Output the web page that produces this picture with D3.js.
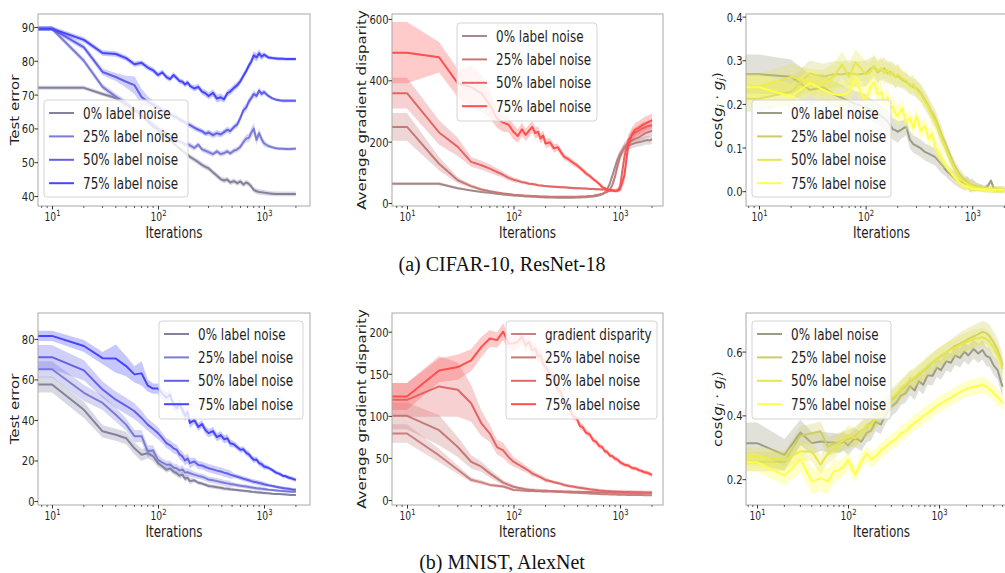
<!DOCTYPE html>
<html>
<head>
<meta charset="utf-8">
<script src="https://cdn.jsdelivr.net/npm/d3@7"></script>
<style>
  body { margin: 0; background: #fff; }
  svg { display: block; }
</style>
</head>
<body>
<svg id="fig" width="1005" height="573"></svg>
<script>
// ---------- iteration grids ----------
const iters = [
  5, 10, 20, 30, 40, 50, 60, 70, 80, 90, 100,
  110, 120, 130, 140, 150, 160, 170, 180, 190, 200,
  220, 240, 260, 280, 300, 330, 360, 390, 420, 450, 480, 520, 560, 600, 640, 680, 720, 760, 800, 850, 900, 950, 1000,
  1100, 1200, 1300, 1400, 1500, 1600, 1700, 1800, 1900, 2000
];
const itersLong = [
  5, 10, 20, 30, 40, 50, 60, 70, 80, 90, 100,
  120, 140, 160, 180, 200, 230, 260, 300, 340, 380,
  430, 480, 540, 600, 670, 750, 850, 950, 1050, 1200, 1350, 1500,
  1700, 1900, 2100, 2400, 2700, 3000, 3300, 3600, 4000, 4400, 4800, 5000
];

const noiseLabels = ["0% label noise", "25% label noise", "50% label noise", "75% label noise"];
const mnistDispLabels = ["gradient disparity", "25% label noise", "50% label noise", "75% label noise"];

// ---------- CIFAR-10 / ResNet-18: test error ----------
const cifarErr00 = [72.0, 72.0, 72.0, 70.2, 69.0, 67.0, 65.5, 64.0, 62.0, 60.6, 59.4,
  58.3, 57.4, 56.5, 55.6, 54.8, 54.0, 53.4, 52.8, 52.2, 51.6,
  50.8, 50.0, 49.2, 48.6, 48.2, 47.0, 46.0, 45.0, 44.6, 44.9, 44.0, 44.4, 43.8, 44.3, 43.4, 44.0, 43.6, 42.8, 41.8, 41.4, 41.2, 41.1, 41.0,
  40.8, 40.7, 40.6, 40.6, 40.6, 40.6, 40.6, 40.6, 40.6, 40.6];
const cifarErrSd00 = [0.6, 0.6, 0.6, 0.6, 0.6, 0.6, 0.6, 0.6, 0.6, 0.6, 0.6,
  0.7, 0.7, 0.7, 0.7, 0.7, 0.7, 0.7, 0.7, 0.7, 0.7,
  0.8, 0.8, 0.8, 0.8, 0.8, 0.8, 0.8, 0.8, 0.8, 0.8, 0.8, 0.8, 0.8, 0.8, 0.8, 0.8, 0.8, 0.8, 0.8, 0.8, 0.8, 0.8, 0.8,
  0.7, 0.7, 0.7, 0.7, 0.7, 0.7, 0.7, 0.7, 0.7, 0.7];
const cifarErr25 = [89.5, 89.5, 80.0, 72.3, 69.4, 67.5, 65.5, 63.8, 62.5, 61.0, 60.0,
  59.2, 58.5, 57.8, 57.0, 56.6, 56.0, 55.8, 55.2, 55.4, 55.0,
  54.2, 55.2, 53.8, 53.4, 53.0, 52.4, 53.2, 52.4, 52.7, 53.2, 52.6, 53.4, 53.8, 54.6, 56.0, 57.0, 57.2, 58.8, 60.0, 56.6, 58.6, 56.8, 55.6,
  54.8, 54.4, 54.1, 54.0, 54.0, 53.9, 53.9, 53.9, 54.0, 54.0];
const cifarErrSd25 = [0.7, 0.7, 0.8, 0.9, 0.9, 0.9, 0.9, 0.9, 0.9, 0.9, 0.9,
  0.8, 0.8, 0.8, 0.8, 0.8, 0.8, 0.8, 0.8, 0.8, 0.8,
  0.8, 0.8, 0.8, 0.8, 0.8, 0.8, 0.8, 0.8, 0.8, 0.8, 0.8, 0.8, 0.8, 0.9, 1.0, 1.2, 1.3, 1.5, 1.6, 1.5, 1.4, 1.2, 1.0,
  0.6, 0.5, 0.5, 0.5, 0.5, 0.5, 0.5, 0.5, 0.5, 0.5];
const cifarErr50 = [89.5, 89.5, 84.0, 76.7, 75.2, 73.8, 72.8, 69.3, 67.9, 67.0, 66.2,
  65.4, 64.8, 64.2, 63.6, 63.3, 62.6, 62.2, 61.8, 61.2, 61.0,
  60.2, 59.6, 59.2, 58.4, 58.8, 58.0, 58.6, 58.2, 58.9, 59.6, 59.2, 60.4, 61.2, 63.2, 65.4, 66.2, 68.0, 69.0, 70.2, 69.6, 71.2, 70.2, 70.8,
  69.6, 68.9, 68.5, 68.3, 68.2, 68.2, 68.2, 68.2, 68.2, 68.2];
const cifarErrSd50 = [0.7, 0.7, 0.9, 1.0, 1.2, 1.8, 2.6, 2.4, 1.6, 1.2, 1.0,
  0.9, 0.9, 0.8, 0.8, 0.8, 0.8, 0.8, 0.8, 0.8, 0.8,
  0.8, 0.8, 0.8, 0.8, 0.9, 0.9, 0.9, 0.9, 0.9, 0.9, 0.9, 0.9, 1.0, 1.0, 1.1, 1.1, 1.1, 1.1, 1.1, 1.0, 1.0, 0.9, 0.8,
  0.6, 0.5, 0.5, 0.5, 0.5, 0.5, 0.5, 0.5, 0.5, 0.5];
const cifarErr75 = [89.5, 89.5, 86.2, 82.3, 82.0, 80.8, 79.0, 79.4, 78.0, 77.2, 75.8,
  76.6, 75.2, 74.6, 75.8, 74.9, 74.0, 73.8, 73.0, 73.6, 72.6,
  71.8, 72.3, 70.9, 70.4, 69.6, 70.5, 68.8, 69.2, 68.6, 70.4, 70.9, 72.0, 72.8, 74.0, 75.6, 77.0, 78.6, 79.8, 81.6, 81.0, 82.2, 81.2, 81.8,
  81.0, 80.8, 80.7, 80.6, 80.6, 80.5, 80.5, 80.5, 80.5, 80.5];
const cifarErrSd75 = [0.7, 0.7, 0.8, 0.8, 0.8, 0.8, 0.8, 0.8, 0.8, 0.8, 0.8,
  0.8, 0.8, 0.8, 0.8, 0.8, 0.8, 0.8, 0.8, 0.8, 0.8,
  0.9, 0.9, 0.9, 1.0, 1.0, 1.1, 1.2, 1.1, 1.0, 1.0, 1.0, 1.0, 1.0, 1.0, 1.0, 1.0, 1.0, 1.1, 1.2, 1.2, 1.2, 1.0, 0.8,
  0.6, 0.5, 0.5, 0.5, 0.5, 0.5, 0.5, 0.5, 0.5, 0.5];

// ---------- CIFAR-10 / ResNet-18: average gradient disparity ----------
const cifarDisp00 = [63, 63, 63, 48, 41, 36, 33, 30.5, 28, 26, 24.5,
  23.5, 22.5, 21.5, 21, 20.5, 20, 19.5, 19, 18.5, 18,
  17.5, 17.5, 17, 17, 17, 17, 17, 17.5, 18, 18.5, 19, 20, 21, 23, 25, 28, 34, 45, 62, 90, 118, 142, 160,
  180, 188, 192, 196, 198, 200, 203, 205, 204, 208];
const cifarDispSd00 = [5, 5, 5, 4, 3, 3, 3, 3, 3, 3, 3,
  2, 2, 2, 2, 2, 2, 2, 2, 2, 2,
  2, 2, 2, 2, 2, 2, 2, 2, 2, 2, 2, 2, 2, 2, 2, 2, 3, 3, 5, 8, 12, 14, 14,
  14, 14, 14, 14, 14, 14, 14, 14, 14, 14];
const cifarDisp25 = [248, 248, 128, 74, 55, 44, 38, 34, 31, 29, 27,
  26, 25, 24, 23.5, 23, 22.5, 22, 21.5, 21, 21,
  20.5, 20, 20, 20, 20, 20, 20, 20.5, 21, 21.5, 22, 23, 24, 26, 28, 30, 33, 36, 42, 60, 88, 122, 150,
  183, 196, 204, 210, 214, 220, 226, 230, 232, 236];
const cifarDispSd25 = [45, 45, 22, 10, 6, 5, 4, 4, 4, 3, 3,
  3, 3, 3, 3, 3, 3, 3, 3, 3, 3,
  2, 2, 2, 2, 2, 2, 2, 2, 2, 2, 2, 2, 2, 2, 2, 2, 2, 3, 5, 8, 12, 15, 15,
  16, 16, 16, 16, 16, 16, 16, 16, 16, 16];
const cifarDisp50 = [358, 358, 230, 183, 134, 123, 112, 101, 92, 82, 76,
  72, 68, 66, 63, 62, 60, 58, 57, 56, 55,
  54, 53, 52, 51, 51, 50, 49, 48, 48, 47, 47, 46, 46, 45, 45, 44, 44, 43, 43, 42, 40, 42, 52,
  150, 205, 222, 230, 236, 242, 246, 250, 252, 254];
const cifarDispSd50 = [50, 50, 40, 30, 16, 15, 14, 12, 10, 9, 8,
  7, 6, 6, 5, 5, 5, 4, 4, 4, 4,
  4, 4, 4, 4, 4, 4, 4, 4, 4, 4, 4, 4, 4, 4, 4, 4, 4, 4, 4, 5, 6, 8, 12,
  25, 20, 18, 18, 18, 18, 18, 18, 18, 18];
const cifarDisp75 = [490, 490, 475, 390, 378, 357, 320, 275, 262, 255, 232,
  218, 240, 222, 236, 248, 228, 232, 210, 220, 194,
  198, 178, 182, 165, 150, 142, 132, 124, 115, 106, 96, 88, 78, 70, 62, 52, 48, 44, 41, 40, 39, 40, 44,
  90, 190, 225, 240, 245, 252, 258, 262, 266, 270];
const cifarDispSd75 = [100, 100, 50, 45, 70, 60, 45, 30, 30, 25, 25,
  22, 22, 20, 20, 20, 18, 18, 16, 16, 15,
  14, 14, 12, 12, 10, 10, 10, 9, 8, 8, 8, 7, 7, 6, 6, 6, 5, 5, 5, 5, 5, 5, 6,
  25, 22, 22, 22, 22, 22, 22, 22, 22, 22];

// ---------- CIFAR-10 / ResNet-18: cosine similarity ----------
const cifarCos00 = [0.268, 0.268, 0.262, 0.232, 0.238, 0.222, 0.214, 0.206, 0.200, 0.196, 0.192,
  0.188, 0.182, 0.178, 0.172, 0.166, 0.160, 0.152, 0.142, 0.140, 0.136,
  0.142, 0.148, 0.118, 0.108, 0.104, 0.098, 0.090, 0.086, 0.082, 0.078, 0.070, 0.060, 0.050, 0.042, 0.036, 0.030, 0.026, 0.022, 0.020, 0.016, 0.020, 0.012, 0.014,
  0.010, 0.008, 0.006, 0.012, 0.024, 0.004, 0.004, 0.003, 0.003, 0.003];
const cifarCosSd00 = [0.045, 0.045, 0.04, 0.035, 0.03, 0.03, 0.03, 0.03, 0.03, 0.03, 0.03,
  0.025, 0.025, 0.025, 0.025, 0.025, 0.025, 0.025, 0.025, 0.025, 0.025,
  0.02, 0.02, 0.02, 0.02, 0.02, 0.02, 0.02, 0.02, 0.02, 0.02, 0.02, 0.02, 0.015, 0.015, 0.015, 0.015, 0.015, 0.015, 0.015, 0.015, 0.015, 0.015, 0.015,
  0.01, 0.008, 0.006, 0.006, 0.006, 0.006, 0.006, 0.006, 0.006, 0.006];
const cifarCos25 = [0.212, 0.212, 0.228, 0.270, 0.262, 0.268, 0.268, 0.270, 0.268, 0.268, 0.270,
  0.280, 0.285, 0.272, 0.278, 0.282, 0.270, 0.274, 0.268, 0.262, 0.264,
  0.255, 0.250, 0.244, 0.238, 0.236, 0.225, 0.210, 0.195, 0.180, 0.168, 0.150, 0.128, 0.110, 0.092, 0.075, 0.060, 0.050, 0.040, 0.034, 0.026, 0.020, 0.016, 0.012,
  0.010, 0.008, 0.006, 0.005, 0.005, 0.004, 0.004, 0.004, 0.004, 0.004];
const cifarCosSd25 = [0.03, 0.03, 0.03, 0.03, 0.03, 0.03, 0.03, 0.03, 0.03, 0.03, 0.03,
  0.025, 0.025, 0.025, 0.025, 0.025, 0.025, 0.025, 0.025, 0.025, 0.025,
  0.02, 0.02, 0.02, 0.02, 0.02, 0.02, 0.02, 0.02, 0.02, 0.02, 0.02, 0.02, 0.012, 0.012, 0.012, 0.012, 0.012, 0.012, 0.012, 0.012, 0.012, 0.012, 0.012,
  0.008, 0.008, 0.008, 0.008, 0.008, 0.008, 0.008, 0.008, 0.008, 0.008];
const cifarCos50 = [0.240, 0.240, 0.262, 0.250, 0.248, 0.262, 0.290, 0.262, 0.295, 0.282, 0.268,
  0.272, 0.288, 0.276, 0.282, 0.270, 0.278, 0.266, 0.272, 0.262, 0.268,
  0.258, 0.254, 0.240, 0.246, 0.232, 0.222, 0.205, 0.192, 0.172, 0.160, 0.140, 0.118, 0.098, 0.080, 0.064, 0.050, 0.040, 0.032, 0.026, 0.020, 0.016, 0.012, 0.010,
  0.008, 0.006, 0.005, 0.004, 0.004, 0.004, 0.003, 0.003, 0.003, 0.003];
const cifarCosSd50 = [0.03, 0.03, 0.03, 0.03, 0.03, 0.03, 0.03, 0.03, 0.03, 0.03, 0.03,
  0.025, 0.025, 0.025, 0.025, 0.025, 0.025, 0.025, 0.025, 0.025, 0.025,
  0.02, 0.02, 0.02, 0.02, 0.02, 0.02, 0.02, 0.02, 0.02, 0.02, 0.02, 0.02, 0.012, 0.012, 0.012, 0.012, 0.012, 0.012, 0.012, 0.012, 0.012, 0.012, 0.012,
  0.008, 0.008, 0.008, 0.008, 0.008, 0.008, 0.008, 0.008, 0.008, 0.008];
const cifarCos75 = [0.238, 0.238, 0.217, 0.248, 0.232, 0.222, 0.220, 0.228, 0.258, 0.228, 0.205,
  0.238, 0.250, 0.222, 0.228, 0.198, 0.215, 0.188, 0.195, 0.178, 0.172,
  0.190, 0.158, 0.168, 0.145, 0.172, 0.138, 0.150, 0.120, 0.132, 0.100, 0.090, 0.075, 0.062, 0.050, 0.040, 0.032, 0.026, 0.020, 0.016, 0.012, 0.010, 0.008, 0.006,
  0.005, 0.004, 0.004, 0.004, 0.003, 0.003, 0.003, 0.003, 0.003, 0.003];
const cifarCosSd75 = [0.03, 0.03, 0.03, 0.03, 0.03, 0.03, 0.03, 0.03, 0.03, 0.03, 0.03,
  0.025, 0.025, 0.025, 0.025, 0.025, 0.025, 0.025, 0.025, 0.025, 0.025,
  0.02, 0.02, 0.02, 0.02, 0.02, 0.02, 0.02, 0.02, 0.02, 0.02, 0.02, 0.02, 0.01, 0.01, 0.01, 0.01, 0.01, 0.01, 0.01, 0.01, 0.01, 0.01, 0.01,
  0.006, 0.006, 0.006, 0.006, 0.006, 0.006, 0.006, 0.006, 0.006, 0.006];

// ---------- MNIST / AlexNet: test error ----------
const mnistErr00 = [57.5, 57.5, 45.0, 34.4, 32.7, 31.0, 26.0, 22.8, 23.6, 22.0, 18.7,
  17.0, 15.4, 16.0, 14.5, 13.7, 12.5, 13.0, 11.0, 11.5, 9.8,
  10.2, 9.0, 8.6, 8.0, 7.4, 7.1, 6.8, 6.5, 6.2, 6.0, 5.8, 5.6, 5.4, 5.2, 5.0, 4.9, 4.8, 4.6, 4.5, 4.3, 4.2, 4.1, 4.0,
  3.8, 3.6, 3.5, 3.4, 3.3, 3.2, 3.1, 3.0, 3.0, 2.9];
const mnistErrSd00 = [4, 4, 4, 3, 3, 3, 3, 3, 2.5, 2.5, 2,
  1.5, 1.5, 1.5, 1.5, 1.5, 1.5, 1.5, 1.5, 1.5, 1.5,
  1, 1, 1, 1, 1, 1, 1, 1, 1, 1, 1, 0.7, 0.7, 0.7, 0.7, 0.7, 0.7, 0.7, 0.7, 0.7, 0.7, 0.7, 0.7,
  0.5, 0.5, 0.5, 0.5, 0.5, 0.5, 0.5, 0.5, 0.5, 0.5];
const mnistErr25 = [65.0, 65.0, 53.4, 48.4, 42.6, 37.7, 32.0, 32.0, 24.5, 25.0, 20.3,
  19.0, 17.9, 18.0, 16.5, 16.2, 15.0, 15.6, 14.0, 14.2, 13.7,
  13.0, 12.4, 12.0, 11.3, 10.6, 10.2, 9.8, 9.4, 9.0, 8.7, 8.4, 8.1, 7.8, 7.5, 7.3, 7.1, 6.9, 6.7, 6.5, 6.3, 6.2, 6.0, 5.9,
  5.6, 5.4, 5.2, 5.0, 4.9, 4.8, 4.7, 4.6, 4.6, 4.5];
const mnistErrSd25 = [4, 4, 4, 3.5, 3.5, 3, 3, 3, 3, 2.5, 2.5,
  2, 2, 2, 2, 2, 2, 2, 2, 2, 2,
  1.5, 1.5, 1.5, 1.5, 1.5, 1.5, 1.5, 1.5, 1.5, 1.5, 1.5, 1, 1, 1, 1, 1, 1, 1, 1, 1, 1, 1, 1,
  0.6, 0.6, 0.6, 0.6, 0.6, 0.6, 0.6, 0.6, 0.6, 0.6];
const mnistErr50 = [71.0, 71.0, 64.5, 55.0, 50.0, 47.0, 44.3, 41.0, 37.7, 35.5, 33.5,
  31.0, 28.6, 27.5, 26.0, 25.3, 23.0, 22.0, 20.0, 21.0, 18.7,
  19.5, 17.8, 17.5, 16.8, 16.2, 15.6, 15.0, 14.6, 14.0, 13.6, 13.0, 12.5, 12.0, 11.5, 11.0, 10.6, 10.2, 9.8, 9.5, 9.2, 8.9, 8.6, 8.3,
  7.8, 7.4, 7.0, 6.7, 6.4, 6.2, 6.0, 5.8, 5.6, 5.5];
const mnistErrSd50 = [6, 6, 5, 4, 4, 4, 4, 3.5, 3, 3, 3,
  2.5, 2.5, 2.5, 2.5, 2.5, 2.5, 2.5, 2.5, 2.5, 2.5,
  2, 2, 2, 2, 2, 2, 2, 2, 2, 2, 2, 1.2, 1.2, 1.2, 1.2, 1.2, 1.2, 1.2, 1.2, 1.2, 1.2, 1.2, 1.2,
  0.8, 0.8, 0.8, 0.8, 0.8, 0.8, 0.8, 0.8, 0.8, 0.8];
const mnistErr75 = [81.5, 81.5, 76.5, 70.5, 70.3, 66.6, 62.5, 63.0, 57.0, 55.5, 55.5,
  53.0, 51.0, 52.5, 47.5, 46.0, 48.0, 45.0, 42.0, 44.0, 38.5,
  40.0, 36.5, 38.0, 35.0, 33.5, 34.5, 31.5, 32.5, 30.5, 31.0, 28.5, 28.0, 26.5, 25.3, 25.5, 23.8, 23.0, 21.5, 20.3, 20.5, 18.6, 18.2, 17.0,
  16.4, 15.2, 14.0, 13.4, 12.5, 12.2, 11.6, 11.2, 10.8, 10.4];
const mnistErrSd75 = [2.5, 2.5, 3, 3, 7, 5, 4, 6, 3, 2.5, 2.5,
  2.5, 2.5, 2.5, 2.5, 2.5, 2.5, 2.5, 2.5, 2.5, 2.5,
  2, 2, 2, 2, 2, 2, 2, 2, 2, 2, 2, 1.5, 1.5, 1.5, 1.5, 1.5, 1.5, 1.5, 1.5, 1.5, 1.5, 1.5, 1.5,
  1, 1, 1, 1, 1, 1, 1, 1, 1, 1];

// ---------- MNIST / AlexNet: average gradient disparity ----------
const mnistDisp00 = [79, 79, 53, 36, 24, 21, 18, 17, 16, 14, 12,
  11.6, 11.2, 11.0, 10.8, 10.6, 10.5, 10.4, 10.3, 10.2, 10.1,
  10.0, 9.8, 9.6, 9.4, 9.2, 9.0, 8.8, 8.6, 8.4, 8.2, 8.0, 7.8, 7.6, 7.4, 7.2, 7.0, 6.9, 6.8, 6.7, 6.6, 6.5, 6.4, 6.3,
  6.2, 6.1, 6.0, 6.0, 5.9, 5.9, 5.8, 5.8, 5.8, 5.8];
const mnistDispSd00 = [11, 11, 8, 5, 3, 2.5, 2, 2, 2, 1.5, 1.5,
  1, 1, 1, 1, 1, 1, 1, 1, 1, 1,
  0.8, 0.8, 0.8, 0.8, 0.8, 0.8, 0.8, 0.8, 0.8, 0.8, 0.8, 0.8, 0.8, 0.8, 0.8, 0.8, 0.8, 0.8, 0.8, 0.8, 0.8, 0.8, 0.8,
  0.6, 0.6, 0.6, 0.6, 0.6, 0.6, 0.6, 0.6, 0.6, 0.6];
const mnistDisp25 = [100, 100, 83, 63, 45.5, 39.6, 31.7, 25.7, 20.6, 18, 15.8,
  14.5, 13.6, 12.8, 12.2, 11.9, 11.6, 11.4, 11.2, 11.1, 11.0,
  10.8, 10.6, 10.4, 10.3, 10.2, 10.0, 9.9, 9.8, 9.7, 9.6, 9.5, 9.4, 9.3, 9.2, 9.1, 9.0, 9.0, 8.9, 8.9, 8.8, 8.8, 8.7, 8.7,
  8.7, 8.6, 8.6, 8.6, 8.6, 8.6, 8.6, 8.6, 8.6, 8.6];
const mnistDispSd25 = [16, 16, 18, 12, 8, 6, 5, 4, 3, 3, 2.5,
  2, 2, 2, 2, 2, 2, 2, 2, 2, 2,
  1.2, 1.2, 1.2, 1.2, 1.2, 1.2, 1.2, 1.2, 1.2, 1.2, 1.2, 1.2, 1.2, 1.2, 1.2, 1.2, 1.2, 1.2, 1.2, 1.2, 1.2, 1.2, 1.2,
  1.5, 1.5, 1.5, 1.5, 1.5, 1.5, 1.5, 1.5, 1.5, 1.5];
const mnistDisp50 = [119, 119, 135, 131, 115, 91, 79, 63, 59, 51, 45.5,
  42.5, 39.6, 37, 34.5, 31.7, 30, 28.5, 27, 25.5, 23.8,
  22.5, 21.2, 20.2, 19.2, 17.8, 16.8, 16, 15.2, 14.6, 14, 13.4, 12.7, 12.2, 11.8, 11.4, 11.1, 10.8, 10.5, 10.3, 10.1, 10, 9.9, 9.8,
  9.6, 9.4, 9.3, 9.2, 9.1, 9.0, 8.9, 8.8, 8.8, 8.7];
const mnistDispSd50 = [20, 20, 36, 32, 22, 15, 10, 9, 9, 8, 6,
  5, 5, 4, 4, 4, 3, 3, 3, 3, 3,
  2, 2, 2, 2, 2, 2, 2, 2, 2, 2, 2, 2, 2, 2, 2, 2, 2, 2, 2, 2, 2, 2, 2,
  2.5, 2.5, 2.5, 2.5, 2.5, 2.5, 2.5, 2.5, 2.5, 2.5];
const mnistDisp75 = [123, 123, 154, 158, 166, 182, 192, 190, 200, 186, 186,
  188, 194, 184, 188, 178, 180, 170, 172, 162, 158,
  150, 146, 131, 128, 115, 112, 100, 98, 88, 86, 80, 78, 71, 69, 64, 63, 58, 57, 53, 52, 49, 48, 45,
  42, 41, 38, 37.5, 35.5, 34.5, 33, 32.5, 31, 30];
const mnistDispSd75 = [16, 16, 14, 15, 13, 12, 10, 9, 10, 9, 8,
  8, 8, 8, 8, 8, 8, 8, 8, 8, 8,
  7, 7, 6, 6, 5, 5, 5, 4, 4, 4, 4, 3.5, 3.5, 3.5, 3, 3, 3, 3, 3, 3, 3, 3, 3,
  2.5, 2.5, 2.5, 2.5, 2.5, 2.5, 2.5, 2.5, 2.5, 2.5];

// ---------- MNIST / AlexNet: cosine similarity (longer run) ----------
const mnistCos00 = [0.313, 0.313, 0.276, 0.346, 0.313, 0.318, 0.316, 0.315, 0.312, 0.318, 0.306,
  0.330, 0.318, 0.345, 0.352, 0.380, 0.372, 0.405, 0.428, 0.440, 0.462,
  0.470, 0.492, 0.478, 0.508, 0.496, 0.526, 0.524, 0.550, 0.542, 0.570, 0.565, 0.588,
  0.580, 0.600, 0.588, 0.608, 0.594, 0.605, 0.586, 0.582, 0.556, 0.542, 0.505, 0.490];
const mnistCosSd00 = [0.065, 0.065, 0.05, 0.04, 0.035, 0.03, 0.03, 0.03, 0.03, 0.03, 0.03,
  0.03, 0.03, 0.03, 0.03, 0.03, 0.03, 0.03, 0.03, 0.03, 0.03,
  0.03, 0.03, 0.03, 0.03, 0.03, 0.03, 0.03, 0.03, 0.03, 0.03, 0.03, 0.03,
  0.03, 0.03, 0.03, 0.03, 0.03, 0.03, 0.03, 0.03, 0.03, 0.03, 0.03, 0.03];
const mnistCos25 = [0.255, 0.255, 0.255, 0.336, 0.344, 0.350, 0.302, 0.310, 0.316, 0.322, 0.325,
  0.335, 0.352, 0.362, 0.378, 0.392, 0.410, 0.425, 0.448, 0.462, 0.480,
  0.492, 0.508, 0.515, 0.528, 0.538, 0.552, 0.565, 0.578, 0.585, 0.598, 0.608, 0.618,
  0.625, 0.632, 0.640, 0.648, 0.655, 0.662, 0.658, 0.648, 0.628, 0.605, 0.575, 0.555];
const mnistCosSd25 = [0.03, 0.03, 0.03, 0.03, 0.03, 0.03, 0.03, 0.03, 0.03, 0.03, 0.03,
  0.03, 0.03, 0.03, 0.03, 0.03, 0.03, 0.03, 0.03, 0.03, 0.03,
  0.03, 0.03, 0.03, 0.03, 0.03, 0.03, 0.03, 0.03, 0.03, 0.03, 0.03, 0.03,
  0.035, 0.035, 0.035, 0.035, 0.035, 0.035, 0.035, 0.035, 0.035, 0.035, 0.035, 0.035];
const mnistCos50 = [0.272, 0.272, 0.260, 0.287, 0.287, 0.245, 0.280, 0.292, 0.313, 0.322, 0.339,
  0.328, 0.350, 0.365, 0.372, 0.390, 0.405, 0.430, 0.455, 0.468, 0.482,
  0.498, 0.512, 0.520, 0.532, 0.542, 0.556, 0.568, 0.578, 0.588, 0.598, 0.606, 0.612,
  0.620, 0.628, 0.632, 0.640, 0.642, 0.645, 0.640, 0.630, 0.612, 0.590, 0.565, 0.545];
const mnistCosSd50 = [0.03, 0.03, 0.03, 0.03, 0.03, 0.03, 0.03, 0.03, 0.03, 0.03, 0.03,
  0.03, 0.03, 0.03, 0.03, 0.03, 0.03, 0.03, 0.03, 0.03, 0.03,
  0.03, 0.03, 0.03, 0.03, 0.03, 0.03, 0.03, 0.03, 0.03, 0.03, 0.03, 0.03,
  0.03, 0.03, 0.03, 0.03, 0.03, 0.03, 0.03, 0.03, 0.03, 0.03, 0.03, 0.03];
const mnistCos75 = [0.253, 0.253, 0.211, 0.263, 0.193, 0.203, 0.193, 0.224, 0.229, 0.240, 0.260,
  0.214, 0.255, 0.280, 0.262, 0.271, 0.290, 0.302, 0.318, 0.326, 0.344,
  0.350, 0.365, 0.378, 0.386, 0.398, 0.407, 0.420, 0.430, 0.438, 0.448, 0.455, 0.464,
  0.472, 0.480, 0.485, 0.490, 0.492, 0.496, 0.490, 0.482, 0.469, 0.458, 0.445, 0.438];
const mnistCosSd75 = [0.03, 0.03, 0.03, 0.04, 0.04, 0.04, 0.04, 0.035, 0.03, 0.03, 0.03,
  0.025, 0.025, 0.025, 0.025, 0.025, 0.025, 0.025, 0.025, 0.025, 0.025,
  0.025, 0.025, 0.025, 0.025, 0.025, 0.025, 0.025, 0.025, 0.025, 0.025, 0.025, 0.025,
  0.025, 0.025, 0.025, 0.025, 0.025, 0.025, 0.025, 0.025, 0.025, 0.025, 0.025, 0.025];

// ---------- tick values ----------
const errTicksCifar = [40, 50, 60, 70, 80, 90];
const dispTicksCifar = [0, 200, 400, 600];
const cosTicksCifar = [0.0, 0.1, 0.2, 0.3, 0.4];
const errTicksMnist = [0, 20, 40, 60, 80];
const dispTicksMnist = [0, 50, 100, 150, 200];
const cosTicksMnist = [0.2, 0.4, 0.6];
const decadeTicks = [10, 100, 1000];

// ---------- palettes ----------
const blues = ["#82829e", "#7c7cd6", "#6060ea", "#4646ff"];
const redsA = ["#a68a8a", "#c97878", "#e36666", "#ff4e4e"];
const redsB = ["#c98080", "#c97878", "#e36666", "#ff4e4e"];
const yellows = ["#9c9c84", "#cdcd68", "#e6e64e", "#ffff48"];

// ---------- drawing ----------
const SX = 0.8;                 // lettering is set slightly condensed
const FONT = "DejaVu Sans";
const INK = "#1e1e1e";
const svg = d3.select("#fig");
const defs = svg.append("defs");

function label(parent, x, y, str, size, anchor) {
  return parent.append("text")
    .attr("transform", `translate(${x},${y}) scale(${SX},1)`)
    .attr("font-family", FONT).attr("font-size", size)
    .attr("fill", INK).attr("text-anchor", anchor || "start")
    .text(str);
}

function drawPanel(p) {
  const g = svg.append("g");
  const x = d3.scaleLog().domain(p.xDomain).range([p.x0, p.x1]);
  const y = d3.scaleLinear().domain(p.yDomain).range([p.y1, p.y0]);

  defs.append("clipPath").attr("id", "clip-" + p.id)
    .append("rect").attr("x", p.x0).attr("y", p.y0)
    .attr("width", p.x1 - p.x0).attr("height", p.y1 - p.y0);

  const plot = g.append("g").attr("clip-path", `url(#clip-${p.id})`);
  p.series.forEach((s, i) => {
    const pts = p.iters.map((t, k) => ({ t, m: s.mean[k], sd: s.sd[k] }));
    plot.append("path").datum(pts)
      .attr("d", d3.area().x(d => x(d.t)).y0(d => y(d.m - d.sd)).y1(d => y(d.m + d.sd)))
      .attr("fill", p.colors[i]).attr("fill-opacity", 0.3).attr("stroke", "none");
    plot.append("path").datum(pts)
      .attr("d", d3.line().x(d => x(d.t)).y(d => y(d.m)))
      .attr("fill", "none").attr("stroke", p.colors[i])
      .attr("stroke-width", 2).attr("stroke-linejoin", "round");
  });

  // frame
  g.append("rect").attr("x", p.x0).attr("y", p.y0)
    .attr("width", p.x1 - p.x0).attr("height", p.y1 - p.y0)
    .attr("fill", "none").attr("stroke", "#a8a8a8").attr("stroke-width", 1);

  // y axis
  const ya = g.append("g").attr("transform", `translate(${p.x0},0)`)
    .call(d3.axisLeft(y).tickValues(p.yTicks).tickSize(3.5).tickFormat(p.yFmt));
  ya.select(".domain").remove();
  ya.selectAll(".tick line").attr("stroke", "#333");
  ya.selectAll(".tick text").attr("x", 0).attr("dy", "0.36em")
    .attr("transform", `translate(-3.5,0) scale(${SX},1)`)
    .attr("font-family", FONT).attr("font-size", 12.5).attr("fill", INK);

  // x axis: decades with superscript labels
  const xa = g.append("g").attr("transform", `translate(0,${p.y1})`)
    .call(d3.axisBottom(x).tickValues(decadeTicks).tickSize(3.5).tickFormat(""));
  xa.select(".domain").remove();
  xa.selectAll(".tick line").attr("stroke", "#333");
  xa.selectAll(".tick").each(function (v) {
    const t = d3.select(this).append("text")
      .attr("transform", `translate(0,14.5) scale(${SX},1)`)
      .attr("font-family", FONT).attr("font-size", 11.5).attr("fill", INK)
      .attr("text-anchor", "middle");
    t.append("tspan").text("10");
    t.append("tspan").attr("dy", -5).attr("font-size", 8.5).text(Math.round(Math.log10(v)));
  });
  // minor ticks
  const minor = [];
  for (let e = 0; e <= 3; e++) for (let m = 2; m <= 9; m++) {
    const v = m * Math.pow(10, e);
    if (v > p.xDomain[0] && v < p.xDomain[1] && x(v) < 1005) minor.push(v);
  }
  g.append("g").selectAll("line").data(minor).join("line")
    .attr("x1", d => x(d)).attr("x2", d => x(d))
    .attr("y1", p.y1).attr("y2", p.y1 + 2)
    .attr("stroke", "#333").attr("stroke-width", 0.8);

  // axis titles
  label(g, (p.x0 + p.x1) / 2, p.y1 + 32, "Iterations", 15, "middle");
  const yc = (p.y0 + p.y1) / 2;
  const yt = g.append("text")
    .attr("transform", `translate(${p.yTitleX},${yc}) rotate(-90) scale(1,${SX})`)
    .attr("font-family", FONT).attr("font-size", 15).attr("fill", INK)
    .attr("text-anchor", "middle");
  if (p.yTitle === "cos") {
    yt.append("tspan").text("cos(");
    yt.append("tspan").attr("font-style", "italic").text("g");
    yt.append("tspan").attr("font-style", "italic").attr("font-size", 10).attr("dy", 3).text("i");
    yt.append("tspan").attr("dy", -3).text(" \u00b7 ");
    yt.append("tspan").attr("font-style", "italic").text("g");
    yt.append("tspan").attr("font-style", "italic").attr("font-size", 10).attr("dy", 3).text("j");
    yt.append("tspan").attr("dy", -3).text(")");
  } else {
    yt.text(p.yTitle);
  }

  // legend
  const L = p.legend;
  const lgG = g.append("g");
  lgG.append("rect").attr("x", L.x).attr("y", L.y).attr("width", L.w).attr("height", L.h)
    .attr("rx", 3).attr("fill", "#fff").attr("fill-opacity", 0.8)
    .attr("stroke", "#d4d4d4").attr("stroke-width", 1);
  p.labels.forEach((txt, i) => {
    const cy = L.y + 13 + i * 23.4;
    lgG.append("line").attr("x1", L.x + 5).attr("x2", L.x + 30)
      .attr("y1", cy).attr("y2", cy)
      .attr("stroke", p.colors[i]).attr("stroke-width", 2);
    label(lgG, L.x + 39, cy + 5.5, txt, 15);
  });
}

const ser = (means, sds) => means.map((m, i) => ({ mean: m, sd: sds[i] }));

const panels = [
  { id: "a1", x0: 38, x1: 310, y0: 14, y1: 206,
    xDomain: [7.38, 2716], yDomain: [37.04, 93.85], yTicks: errTicksCifar, yFmt: d3.format("d"),
    yTitle: "Test error", yTitleX: 19, iters: iters, colors: blues, labels: noiseLabels,
    series: ser([cifarErr00, cifarErr25, cifarErr50, cifarErr75], [cifarErrSd00, cifarErrSd25, cifarErrSd50, cifarErrSd75]),
    legend: { x: 44, y: 100, w: 144, h: 97 } },
  { id: "a2", x0: 392, x1: 663, y0: 14, y1: 206,
    xDomain: [7.23, 2535], yDomain: [-9.8, 616], yTicks: dispTicksCifar, yFmt: d3.format("d"),
    yTitle: "Average gradient disparity", yTitleX: 366, iters: iters, colors: redsA, labels: noiseLabels,
    series: ser([cifarDisp00, cifarDisp25, cifarDisp50, cifarDisp75], [cifarDispSd00, cifarDispSd25, cifarDispSd50, cifarDispSd75]),
    legend: { x: 457, y: 23, w: 140, h: 98 } },
  { id: "a3", x0: 746, x1: 1017, y0: 14, y1: 206,
    xDomain: [7.55, 2630], yDomain: [-0.034, 0.406], yTicks: cosTicksCifar, yFmt: d3.format(".1f"),
    yTitle: "cos", yTitleX: 722, iters: iters, colors: yellows, labels: noiseLabels,
    series: ser([cifarCos00, cifarCos25, cifarCos50, cifarCos75], [cifarCosSd00, cifarCosSd25, cifarCosSd50, cifarCosSd75]),
    legend: { x: 752, y: 100, w: 139, h: 97 } },
  { id: "b1", x0: 38, x1: 310, y0: 313, y1: 505,
    xDomain: [7.38, 2716], yDomain: [-1.98, 92.8], yTicks: errTicksMnist, yFmt: d3.format("d"),
    yTitle: "Test error", yTitleX: 19, iters: iters, colors: blues, labels: noiseLabels,
    series: ser([mnistErr00, mnistErr25, mnistErr50, mnistErr75], [mnistErrSd00, mnistErrSd25, mnistErrSd50, mnistErrSd75]),
    legend: { x: 159, y: 321, w: 144, h: 98 } },
  { id: "b2", x0: 392, x1: 663, y0: 313, y1: 505,
    xDomain: [7.23, 2535], yDomain: [-5.9, 222.2], yTicks: dispTicksMnist, yFmt: d3.format("d"),
    yTitle: "Average gradient disparity", yTitleX: 366, iters: iters, colors: redsB, labels: mnistDispLabels,
    series: ser([mnistDisp00, mnistDisp25, mnistDisp50, mnistDisp75], [mnistDispSd00, mnistDispSd25, mnistDispSd50, mnistDispSd75]),
    legend: { x: 506, y: 321, w: 151, h: 98 } },
  { id: "b3", x0: 746, x1: 1017, y0: 313, y1: 505,
    xDomain: [7.57, 7194], yDomain: [0.119, 0.721], yTicks: cosTicksMnist, yFmt: d3.format(".1f"),
    yTitle: "cos", yTitleX: 722, iters: itersLong, colors: yellows, labels: noiseLabels,
    series: ser([mnistCos00, mnistCos25, mnistCos50, mnistCos75], [mnistCosSd00, mnistCosSd25, mnistCosSd50, mnistCosSd75]),
    legend: { x: 752, y: 321, w: 139, h: 98 } }
];

panels.forEach(drawPanel);

// sub-figure captions
const cap = (yy, str) => svg.append("text").attr("x", 502).attr("y", yy)
  .attr("font-family", "Liberation Serif").attr("font-size", 20)
  .attr("fill", "#111").attr("text-anchor", "middle").text(str);
cap(271, "(a) CIFAR-10, ResNet-18");
cap(569, "(b) MNIST, AlexNet");
</script>
</body>
</html>
